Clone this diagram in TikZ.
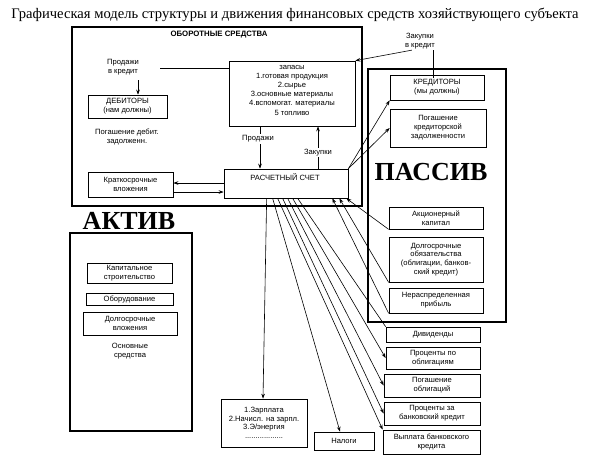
\documentclass[tikz,border=0pt]{standalone}
\usepackage{fontspec}
\setmainfont{Liberation Serif}
\setsansfont{Liberation Sans}
\usetikzlibrary{arrows.meta}
\begin{document}
\begin{tikzpicture}[x=1pt,y=-1pt,
  txt/.style={inner sep=1pt, align=center, font=\sffamily\fontsize{7.6}{9}\selectfont},
  box/.style={txt, draw, line width=0.7pt},
  bigbox/.style={draw, line width=1.5pt, inner sep=0pt},
  bigtxt/.style={inner sep=0pt, font=\bfseries\fontsize{26}{28}\selectfont},
  ln/.style={line width=0.6pt},
  arr/.style={ln, -{Stealth[length=5pt,width=3.6pt]}},
  cut/.style={txt, fill=white, inner sep=1.5pt}]
\useasboundingbox (0,0) rectangle (591,467);

% title
\node[inner sep=0pt, font=\fontsize{14.6}{16}\selectfont] (title) at (295,15) {Графическая модель структуры и движения финансовых средств хозяйствующего субъекта};

% big frames
\node[bigbox, minimum width=290pt, minimum height=179pt] (ob) at (217,116.5) {};
\node[bigbox, minimum width=138pt, minimum height=253pt] (pas) at (437,195.5) {};
\node[bigbox, minimum width=122pt, minimum height=198pt] (akt) at (131,332) {};

\node[txt, font=\sffamily\bfseries\fontsize{7.8}{9}\selectfont] (obt) at (219,35) {ОБОРОТНЫЕ СРЕДСТВА};
\node[bigtxt] (pastxt) at (431,172.5) {ПАССИВ};
\node[bigtxt] (akttxt) at (129,221) {АКТИВ};

% circulating assets
\node[box, minimum width=126pt, minimum height=65pt] (zap) at (292,93.5) {};
\node[txt, font=\sffamily\fontsize{7.6}{9.2}\selectfont] (zaptxt) at (292,90) {запасы\\1.готовая продукция\\2.сырье\\3.основные материалы\\4.вспомогат. материалы\\5 топливо};
\node[box, minimum width=79pt, minimum height=23pt] (deb) at (127.5,106.5) {ДЕБИТОРЫ\\(нам должны)};
\node[txt, font=\sffamily\fontsize{7.6}{8.5}\selectfont] (pk) at (123,67) {Продажи\\в кредит};
\node[txt] (pogdeb) at (127,137) {Погашение дебит.\\задолженн.};
\node[box, minimum width=85pt, minimum height=25pt] (krat) at (130.5,184.5) {Краткосрочные\\вложения};
\node[box, minimum width=124pt, minimum height=29pt] (rs) at (286,183.5) {};
\node[txt] (rstxt) at (285,177) {РАСЧЕТНЫЙ СЧЕТ};

% liabilities
\node[txt] (zk) at (420,41) {Закупки\\в кредит};
\node[box, minimum width=94pt, minimum height=25pt] (kred) at (437,87.5) {КРЕДИТОРЫ\\(мы должны)};
\node[box, minimum width=96pt, minimum height=38pt] (pogkred) at (438,128) {Погашение\\кредиторской\\задолженности};
\node[box, minimum width=94pt, minimum height=22pt] (akc) at (436,218) {Акционерный\\капитал};
\node[box, minimum width=94pt, minimum height=45pt, font=\sffamily\fontsize{7.6}{8.7}\selectfont] (dolg) at (436,259.5) {Долгосрочные\\обязательства\\(облигации, банков-\\ский кредит)};
\node[box, minimum width=94pt, minimum height=25pt] (neras) at (436,300.5) {Нераспределенная\\прибыль};

% fixed assets
\node[box, minimum width=85pt, minimum height=20pt] (kap) at (129.5,273) {Капитальное\\строительство};
\node[box, minimum width=87pt, minimum height=12pt] (obor) at (129.5,299) {Оборудование};
\node[box, minimum width=94pt, minimum height=23pt] (dolgvl) at (130,323.5) {Долгосрочные\\вложения};
\node[txt] (osn) at (130,351) {Основные\\средства};

% payments
\node[box, minimum width=86pt, minimum height=48pt, font=\sffamily\fontsize{7.6}{8.3}\selectfont] (zarp) at (264,423) {1.Зарплата\\2.Начисл. на зарпл.\\3.Э/энергия\\[1pt]..................};
\node[box, minimum width=60pt, minimum height=18pt] (nalog) at (344,441) {Налоги};
\node[box, minimum width=94pt, minimum height=15pt] (div) at (433,334.5) {Дивиденды};
\node[box, minimum width=94pt, minimum height=22pt] (procobl) at (433,358) {Проценты по\\облигациям};
\node[box, minimum width=96pt, minimum height=23pt] (pogobl) at (432,385.5) {Погашение\\облигаций};
\node[box, minimum width=96pt, minimum height=23pt] (procbank) at (432,413.5) {Проценты за\\банковский кредит};
\node[box, minimum width=97pt, minimum height=24pt] (vypl) at (431.5,442) {Выплата банковского\\кредита};

% helper coordinates
\coordinate (pkc) at (160,68);
\coordinate (pka) at (138,80);
\coordinate (xp) at (260,0);
\coordinate (xz) at (318,0);
\coordinate (ya) at (0,183);
\coordinate (yb) at (0,192);

% connectors in circulating assets
\draw[ln] (pkc) -- (zap.west |- pkc);
\draw[arr] (pka) -- (deb.north -| pka);
\draw[arr] (zap.south -| xp) -- (rs.north -| xp);
\draw[arr] (rs.north -| xz) -- (zap.south -| xz);
\node[cut] (prl) at (258,139) {Продажи};
\node[cut] (zkl) at (318,152.5) {Закупки};
\draw[arr] (rs.west |- ya) -- (krat.east |- ya);
\draw[arr] (krat.east |- yb) -- (rs.west |- yb);

% purchases on credit
\draw[arr] ([xshift=8pt]zk.south west) -- (zap.north east);
\draw[ln] ([xshift=-3pt]zk.south east) -- ++(0,28);

% settlement account <-> liabilities
\draw[arr] (rs.north east) -- (kred.south west);
\draw[arr] (rs.north east) -- (pogkred.west);
\draw[arr] (akc.south west) -- ([xshift=-2pt]rs.south east);
\draw[arr] (dolg.south west) -- ([xshift=-9pt]rs.south east);
\draw[arr] (neras.south west) -- ([xshift=-16pt]rs.south east);

% payments fan
\draw[arr] ([xshift=43pt]rs.south west) -- ([xshift=-1pt]zarp.north);
\draw[arr] ([xshift=49pt]rs.south west) -- ([xshift=-4pt]nalog.north);
\draw[arr] ([xshift=54pt]rs.south west) -- (vypl.north west);
\draw[arr] ([xshift=59pt]rs.south west) -- (procbank.west);
\draw[arr] ([xshift=64pt]rs.south west) -- (pogobl.west);
\draw[arr] ([xshift=69pt]rs.south west) -- (procobl.west);
\draw[ln] ([xshift=74pt]rs.south west) -- (div.north west);
\end{tikzpicture}
\end{document}
